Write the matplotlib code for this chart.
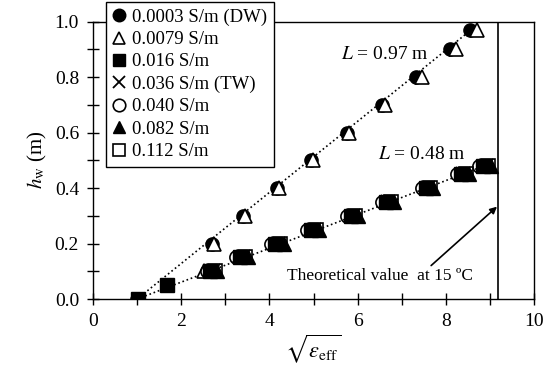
import matplotlib
matplotlib.use("Agg")
import matplotlib.pyplot as plt
from matplotlib.ticker import MultipleLocator

plt.rcParams['font.family'] = ['Liberation Serif', 'DejaVu Serif']
plt.rcParams['mathtext.fontset'] = 'stix'

# fitted dotted lines (sqrt(eps_eff), h_w)
fit_long_x = [1.0, 8.65]
fit_long_h = [0.0, 0.98]
fit_short_x = [1.0, 8.95]
fit_short_h = [0.0, 0.485]

# 0.0003 S/m (DW)
dw_x = [1.0, 2.6, 2.7, 3.4, 4.18, 4.95, 5.75, 6.55, 7.32, 8.1, 8.55]
dw_h = [0.0, 0.1, 0.2, 0.3, 0.4, 0.5, 0.6, 0.7, 0.8, 0.9, 0.97]
# 0.0079 S/m
s0079_x = [2.52, 2.74, 3.44, 4.22, 4.99, 5.8, 6.62, 7.45, 8.22, 8.7]
s0079_h = [0.1, 0.2, 0.3, 0.4, 0.5, 0.6, 0.7, 0.8, 0.9, 0.97]
# 0.016 S/m
s016_x = [1.02, 1.68, 2.66, 3.34, 4.13, 4.94, 5.84, 6.64, 7.54, 8.34, 8.84]
s016_h = [0.0, 0.05, 0.1, 0.15, 0.2, 0.25, 0.3, 0.35, 0.4, 0.45, 0.48]
# shorter tank, remaining series
short_h = [0.1, 0.15, 0.2, 0.25, 0.3, 0.35, 0.4, 0.45, 0.48]
s036_x = [2.72, 3.4, 4.2, 5.0, 5.9, 6.7, 7.6, 8.4, 8.9]
s040_x = [2.58, 3.24, 4.04, 4.85, 5.75, 6.55, 7.45, 8.25, 8.76]
s082_x = [2.82, 3.52, 4.32, 5.12, 6.02, 6.82, 7.72, 8.52, 9.02]
s112_x = [2.76, 3.45, 4.25, 5.05, 5.95, 6.75, 7.65, 8.45, 8.95]

theory_x = 9.19

fig = plt.figure(figsize=(5.5, 3.72), dpi=100)
ax = fig.add_axes([0.169, 0.196, 0.802, 0.746])

ax.plot(fit_long_x, fit_long_h, ':', color='black', lw=1.2, zorder=1)
ax.plot(fit_short_x, fit_short_h, ':', color='black', lw=1.2, zorder=1)

ms = 9.5
ax.plot(dw_x, dw_h, 'o', ms=ms, mfc='black', mec='black', ls='none', label='0.0003 S/m (DW)')
ax.plot(s0079_x, s0079_h, '^', ms=ms, mfc='white', mec='black', mew=1.2, ls='none', label='0.0079 S/m')
ax.plot(s016_x, s016_h, 's', ms=ms, mfc='black', mec='black', ls='none', label='0.016 S/m')
ax.plot(s036_x, short_h, 'x', ms=ms, mec='black', mew=1.3, ls='none', label='0.036 S/m (TW)')
ax.plot(s040_x, short_h, 'o', ms=ms, mfc='none', mec='black', mew=1.2, ls='none', label='0.040 S/m')
ax.plot(s082_x, short_h, '^', ms=ms, mfc='black', mec='black', ls='none', label='0.082 S/m')
ax.plot(s112_x, short_h, 's', ms=ms, mfc='none', mec='black', mew=1.2, ls='none', label='0.112 S/m')

ax.axvline(theory_x, color='black', lw=1.2)

ax.text(7.6, 0.88, r'$L$ = 0.97 m', ha='right', va='center', fontsize=14)
ax.text(8.45, 0.52, r'$L$ = 0.48 m', ha='right', va='center', fontsize=14)
ax.annotate('Theoretical value  at 15 ºC', xy=(9.16, 0.333), xytext=(6.5, 0.082),
            ha='center', va='center', fontsize=12.5,
            arrowprops=dict(arrowstyle='-|>', color='black', lw=1.2,
                            shrinkA=0, shrinkB=0, mutation_scale=10,
                            relpos=(0.76, 1.0)))

ax.set_xlim(0, 10)
ax.set_ylim(0, 1.0)
ax.xaxis.set_major_locator(MultipleLocator(2))
ax.xaxis.set_minor_locator(MultipleLocator(1))
ax.yaxis.set_major_locator(MultipleLocator(0.2))
ax.yaxis.set_minor_locator(MultipleLocator(0.1))
ax.yaxis.set_major_formatter(plt.FormatStrFormatter('%.1f'))
ax.tick_params(which='both', direction='inout', length=8, width=1.0,
               labelsize=14, color='black', pad=6)
for s in ax.spines.values():
    s.set_linewidth(1.0)

ax.set_xlabel(r'$\sqrt{\varepsilon_{\rm eff}}$', fontsize=16, labelpad=2)
ax.set_ylabel(r'$h_{\rm w}$ (m)', fontsize=15, labelpad=4)

leg = fig.legend(loc='upper left', bbox_to_anchor=(0.193, 0.995),
                 bbox_transform=fig.transFigure, fontsize=13.5,
                 frameon=True, fancybox=False, edgecolor='black',
                 handlelength=0.7, handletextpad=0.35, labelspacing=0.28,
                 borderpad=0.35, borderaxespad=0, markerscale=0.95)
leg.get_frame().set_linewidth(1.0)
leg.get_frame().set_alpha(1)

fig.savefig('out.png', dpi=100)
